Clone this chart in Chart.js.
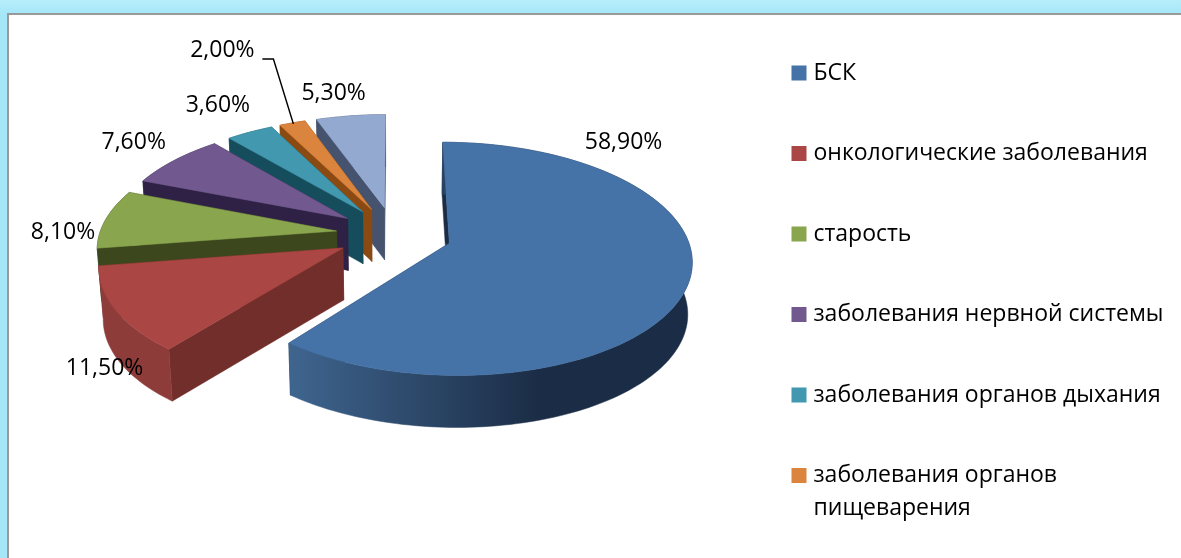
<!DOCTYPE html>
<html lang="ru">
<head>
<meta charset="utf-8">
<script src="https://cdn.jsdelivr.net/npm/chart.js@4"></script>
<style>
  html, body { margin:0; height:558px; overflow:hidden; background:linear-gradient(#b8eefa, #a5e7f8 14px); }
  #frame { position:absolute; left:7px; top:13px; width:1200px; height:600px; background:#fff; border:2px solid #999; }
  #myChart { position:absolute; left:0; top:0; filter:blur(0.45px); }
</style>
</head>
<body>
<div id="frame"></div>
<canvas id="myChart" width="1181" height="640"></canvas>
<script>
// data
const categories = [
  'БСК',
  'онкологические заболевания',
  'старость',
  'заболевания нервной системы',
  'заболевания органов дыхания',
  ['заболевания органов', 'пищеварения'],
  'другие причины' // legend entry is cut off in the picture
]
const percents = [58.9, 11.5, 8.1, 7.6, 3.6, 2.0, 5.3]

const topColors  = ['#4572a7', '#aa4643', '#89a54e', '#71588f', '#4198af', '#db843d', '#93a9cf']
const sideColors = ['#1b2d46', '#722e2b', '#3c471e', '#2f2145', '#154d5c', '#8a4a12', '#45536e']
const rimColors  = ['#3f658f', '#8d3c3a', '#3c471e', '#2f2145', '#154d5c', '#8a4a12', '#45536e']

// view of the tilted pie
const pieX = 394, pieY = 234
const tilt = 114.4 / 242
const persp = 0.133
const depth = 52
const wallShrink = 0.985
const fontName = '"Open Sans"'

// label anchor shift from the middle of each slice's outer edge
const labelShift = [[-65,-140], [-11,58], [-43,14], [-41,-18], [-32,-27], [-70,-72], [-17,-22]]

function project(wx, wy, R) {
  const f = 1 / (1 - persp * wy)
  return [pieX + R * wx * f, pieY + R * tilt * wy * f]
}

function sliceGeom(el) {
  const R = el.outerRadius
  const mid = (el.startAngle + el.endAngle) / 2
  const e = (el.options.offset / 4) / R
  const ox = e * Math.cos(mid), oy = e * Math.sin(mid)
  const steps = Math.max(8, Math.ceil((el.endAngle - el.startAngle) * 40))
  const rim = []
  for (let i = 0; i <= steps; i++) {
    const a = el.startAngle + (el.endAngle - el.startAngle) * i / steps
    rim.push(project(ox + Math.cos(a), oy + Math.sin(a), R))
  }
  return {
    rim,
    apex: project(ox, oy, R),
    edge: project(ox + Math.cos(mid), oy + Math.sin(mid), R),
    back: oy + Math.sin(mid)
  }
}

function fillPoly(ctx, pts, fill) {
  ctx.beginPath()
  pts.forEach((p, i) => i ? ctx.lineTo(p[0], p[1]) : ctx.moveTo(p[0], p[1]))
  ctx.closePath()
  ctx.fillStyle = fill
  ctx.fill()
  ctx.strokeStyle = fill
  ctx.lineWidth = 0.5
  ctx.stroke()
}

// the lower edge of a wall sits a little further from the viewer
const down = p => [pieX + (p[0] - pieX) * wallShrink, p[1] + depth]

const pie3d = {
  id: 'pie3d',
  afterLayout(chart) {
    chart.legend.left = 738.5
    chart.legend.top = 4
  },
  beforeDatasetsDraw(chart) {
    const ctx = chart.ctx
    const arcs = chart.getDatasetMeta(0).data
    const order = arcs.map((el, i) => ({ i, g: sliceGeom(el) })).sort((a, b) => a.g.back - b.g.back)
    order.forEach(({ i, g }) => {
      const first = g.rim[0], last = g.rim[g.rim.length - 1]
      fillPoly(ctx, [g.apex, first, down(first), down(g.apex)], sideColors[i])
      fillPoly(ctx, [g.apex, last, down(last), down(g.apex)], sideColors[i])
      const xs = g.rim.map(p => p[0])
      const grad = ctx.createLinearGradient(Math.min(...xs), 0, Math.max(...xs), 0)
      grad.addColorStop(0, rimColors[i])
      grad.addColorStop(i === 0 ? 0.62 : 1, i === 0 ? '#1b2d46' : rimColors[i])
      grad.addColorStop(1, i === 0 ? '#1b2d46' : rimColors[i])
      fillPoly(ctx, g.rim.concat(g.rim.slice().reverse().map(down)), grad)
      fillPoly(ctx, [g.apex].concat(g.rim), topColors[i])
    })
    return false
  },
  afterDraw(chart) {
    const ctx = chart.ctx
    const arcs = chart.getDatasetMeta(0).data
    ctx.save()
    ctx.font = '23px ' + fontName
    ctx.fillStyle = '#000'
    ctx.textAlign = 'center'
    ctx.textBaseline = 'middle'
    arcs.forEach((el, i) => {
      const g = sliceGeom(el)
      const x = g.edge[0] + labelShift[i][0], y = g.edge[1] + labelShift[i][1]
      ctx.fillText(percents[i].toFixed(2).replace('.', ',') + '%', x, y)
      if (percents[i] === 2) { // leader line of the smallest slice
        ctx.beginPath()
        ctx.moveTo(x + 40, y + 8)
        ctx.lineTo(x + 51, y + 8)
        ctx.lineTo(g.edge[0] + 1, g.edge[1] + 1)
        ctx.strokeStyle = '#000'
        ctx.lineWidth = 1.5
        ctx.stroke()
      }
    })
    ctx.restore()
  }
}

new Chart(document.getElementById('myChart'), {
  type: 'pie',
  data: {
    labels: categories,
    datasets: [{
      data: percents,
      backgroundColor: topColors,
      borderWidth: 0,
      offset: 232
    }]
  },
  options: {
    responsive: false,
    animation: false,
    events: [],
    radius: 237,
    plugins: {
      tooltip: { enabled: false },
      legend: {
        position: 'right',
        align: 'start',
        labels: {
          color: '#000',
          font: { family: fontName, size: 23, lineHeight: 33 / 23 },
          padding: 57.5,
          boxWidth: 6,
          boxHeight: 15,
          usePointStyle: true,
          pointStyle: 'rect',
          filter: item => item.index < 6
        }
      }
    }
  },
  plugins: [pie3d]
})
</script>
</body>
</html>
